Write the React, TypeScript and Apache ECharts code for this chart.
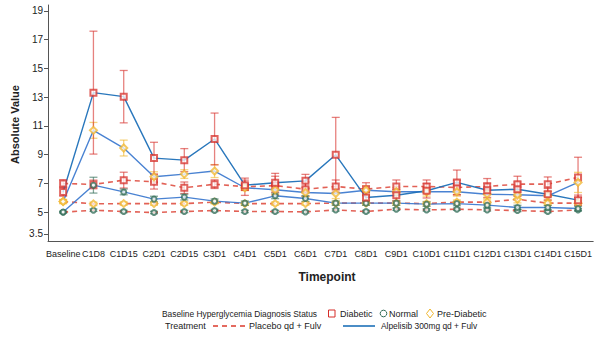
import React, { useEffect, useRef } from "react";
import * as echarts from "echarts";

const categories = ["Baseline", "C1D8", "C1D15", "C2D1", "C2D15", "C3D1", "C4D1", "C5D1", "C6D1", "C7D1", "C8D1", "C9D1", "C10D1", "C11D1", "C12D1", "C13D1", "C14D1", "C15D1"];
const yTicks = [3.5, 5, 7, 9, 11, 13, 15, 17, 19];

// Placebo qd + Fulv
const placeboDiabetic = [7.0, 6.93, 7.23, 7.11, 6.7, 6.95, 6.77, 6.85, 6.6, 6.79, 6.6, 6.79, 6.79, 6.72, 6.79, 6.95, 6.95, 7.42];
const placeboDiabeticErr = [0.25, 0.3, 0.55, 0.5, 0.4, 0.3, 0.6, 0.65, 0.5, 0.45, 0.45, 0.45, 0.45, 0.5, 0.55, 0.55, 0.5, 1.4];
const placeboNormal = [5.0, 5.14, 5.05, 4.98, 5.05, 5.12, 5.05, 5.05, 5.02, 5.16, 5.05, 5.21, 5.16, 5.21, 5.16, 5.12, 5.05, 5.16];
const placeboNormalErr = [0.06, 0.08, 0.08, 0.08, 0.08, 0.08, 0.08, 0.08, 0.08, 0.08, 0.08, 0.08, 0.08, 0.08, 0.08, 0.08, 0.08, 0.08];
const placeboPre = [5.75, 5.58, 5.6, 5.6, 5.6, 5.7, 5.6, 5.6, 5.6, 5.63, 5.63, 5.63, 5.6, 5.7, 5.7, 5.9, 5.63, 5.63];
const placeboPreErr = [0.12, 0.12, 0.12, 0.12, 0.12, 0.12, 0.12, 0.12, 0.12, 0.12, 0.12, 0.15, 0.15, 0.15, 0.15, 0.25, 0.15, 0.15];

// Alpelisib 300mg qd + Fulv
const alpDiabetic = [6.41, 13.31, 13.03, 8.76, 8.62, 10.09, 6.88, 7.05, 7.18, 8.99, 6.02, 6.18, 6.49, 7.07, 6.53, 6.6, 6.25, 5.84];
const alpDiabeticErr = [0.3, 4.27, 1.82, 1.1, 0.8, 1.8, 0.35, 0.65, 0.45, 2.6, 0.4, 0.4, 0.5, 0.86, 0.5, 0.5, 0.4, 0.35];
const alpNormal = [5.02, 6.88, 6.41, 5.91, 6.05, 5.77, 5.63, 6.14, 5.95, 5.63, 5.63, 5.63, 5.56, 5.6, 5.49, 5.33, 5.33, 5.26];
const alpNormalErr = [0.05, 0.55, 0.2, 0.2, 0.2, 0.15, 0.15, 0.2, 0.2, 0.15, 0.15, 0.15, 0.15, 0.15, 0.15, 0.15, 0.15, 0.15];
const alpPre = [5.74, 10.69, 9.46, 7.46, 7.65, 7.86, 6.7, 6.56, 6.37, 6.3, 6.53, 6.42, 6.42, 6.42, 6.25, 6.21, 6.14, 7.07];
const alpPreErr = [0.15, 0.55, 0.55, 0.35, 0.3, 0.45, 0.2, 0.3, 0.3, 0.35, 0.3, 0.3, 0.3, 0.3, 0.3, 0.3, 0.3, 0.7];

const RED = "#db3a2c";
const BLUE = "#1d70b8";
const BLUE2 = "#3f7bd0";
const C_DIAB = "#d62d28";
const C_NORM = "#2f6b55";
const C_PRE = "#f0b62c";

const FONT = "Liberation Sans, Arial, sans-serif";

function errSeries(vals: number[], errs: number[], color: string) {
  return {
    type: "custom",
    z: 2,
    silent: true,
    data: vals.map((v, i) => [i, v - errs[i], v + errs[i]]),
    renderItem: (params: any, api: any) => {
      const lo = api.coord([api.value(0), api.value(1)]);
      const hi = api.coord([api.value(0), api.value(2)]);
      const hw = 4;
      const st = { stroke: color, lineWidth: 1.3, opacity: 0.6 };
      return {
        type: "group",
        children: [
          { type: "line", shape: { x1: lo[0], y1: lo[1], x2: hi[0], y2: hi[1] }, style: st },
          { type: "line", shape: { x1: lo[0] - hw, y1: lo[1], x2: lo[0] + hw, y2: lo[1] }, style: st },
          { type: "line", shape: { x1: hi[0] - hw, y1: hi[1], x2: hi[0] + hw, y2: hi[1] }, style: st },
        ],
      };
    },
  };
}

function lineSeries(name: string, vals: number[], dashed: boolean, lineColor: string, symbol: string, mColor: string, size: number) {
  return {
    name,
    type: "line",
    z: 3,
    data: vals,
    symbol,
    symbolSize: size,
    showAllSymbol: true,
    lineStyle: dashed
      ? { color: lineColor, width: 1.6, type: [5, 4], opacity: 0.8 }
      : { color: lineColor, width: 1.4, opacity: 0.95 },
    itemStyle: { color: mColor, borderColor: mColor, borderWidth: 1.4, opacity: 0.75 },
  };
}

export default function App() {
  const ref = useRef<HTMLDivElement>(null);
  useEffect(() => {
    const chart = echarts.init(ref.current!, null, { renderer: "svg" });
    const legTxt = { fontSize: 9, fontFamily: FONT, fill: "#222" };
    const legSm = { fontSize: 8.4, fontFamily: FONT, fill: "#222" };
    chart.setOption({
      animation: false,
      grid: { left: 48, right: 0, top: 5, height: 236 },
      xAxis: {
        type: "category",
        data: categories,
        boundaryGap: true,
        axisLine: { lineStyle: { color: "#555", width: 1 } },
        axisTick: { alignWithLabel: true, length: 4, lineStyle: { color: "#555" } },
        axisLabel: { interval: 0, fontSize: 9, fontFamily: FONT, color: "#222", margin: 8 },
      },
      yAxis: {
        type: "value",
        min: 3,
        max: 19.4,
        splitLine: { show: false },
        axisLine: { show: true, lineStyle: { color: "#555", width: 1 } },
        axisTick: { show: true, length: 4, customValues: yTicks, lineStyle: { color: "#555" } },
        axisLabel: { fontSize: 10, fontFamily: FONT, color: "#222", margin: 5, customValues: yTicks },
      },
      series: [
        errSeries(placeboNormal, placeboNormalErr, C_NORM),
        errSeries(placeboPre, placeboPreErr, C_PRE),
        errSeries(placeboDiabetic, placeboDiabeticErr, C_DIAB),
        errSeries(alpNormal, alpNormalErr, C_NORM),
        errSeries(alpPre, alpPreErr, C_PRE),
        errSeries(alpDiabetic, alpDiabeticErr, C_DIAB),
        lineSeries("Placebo Normal", placeboNormal, true, RED, "emptyCircle", C_NORM, 5),
        lineSeries("Placebo Pre-Diabetic", placeboPre, true, RED, "emptyDiamond", C_PRE, 7),
        lineSeries("Placebo Diabetic", placeboDiabetic, true, RED, "emptyRect", C_DIAB, 6),
        lineSeries("Alpelisib Normal", alpNormal, false, BLUE2, "emptyCircle", C_NORM, 5),
        lineSeries("Alpelisib Pre-Diabetic", alpPre, false, BLUE2, "emptyDiamond", C_PRE, 7),
        lineSeries("Alpelisib Diabetic", alpDiabetic, false, BLUE, "emptyRect", C_DIAB, 6),
      ],
      graphic: [
        {
          type: "text", x: 327, y: 277,
          style: { text: "Timepoint", fontSize: 12, fontWeight: "bold", fontFamily: FONT, fill: "#222", align: "center", verticalAlign: "middle" },
        },
        {
          type: "text", x: 15, y: 124.5, rotation: Math.PI / 2,
          style: { text: "Absolute Value", fontSize: 11, fontWeight: "bold", fontFamily: FONT, fill: "#222", align: "center", verticalAlign: "middle" },
        },
        { type: "text", x: 162, y: 313.5, style: { ...legSm, text: "Baseline Hyperglycemia Diagnosis Status", verticalAlign: "middle" } },
        { type: "rect", shape: { x: 328.5, y: 310, width: 6.5, height: 7 }, style: { fill: "none", stroke: C_DIAB, lineWidth: 1 } },
        { type: "text", x: 340, y: 313.5, style: { ...legTxt, text: "Diabetic", verticalAlign: "middle" } },
        { type: "circle", shape: { cx: 383.5, cy: 313.5, r: 3.3 }, style: { fill: "none", stroke: C_NORM, lineWidth: 1 } },
        { type: "text", x: 389, y: 313.5, style: { ...legTxt, text: "Normal", verticalAlign: "middle" } },
        { type: "polygon", shape: { points: [[430, 309], [433.5, 313.5], [430, 318], [426.5, 313.5]] }, style: { fill: "none", stroke: C_PRE, lineWidth: 1 } },
        { type: "text", x: 437, y: 313.5, style: { ...legTxt, text: "Pre-Diabetic", verticalAlign: "middle" } },
        { type: "text", x: 165, y: 326, style: { ...legTxt, text: "Treatment", verticalAlign: "middle" } },
        { type: "line", shape: { x1: 213, y1: 326, x2: 247, y2: 326 }, style: { stroke: RED, lineWidth: 1.6, lineDash: [5, 4] } },
        { type: "text", x: 249, y: 326, style: { ...legTxt, text: "Placebo qd + Fulv", verticalAlign: "middle" } },
        { type: "line", shape: { x1: 343, y1: 326, x2: 375, y2: 326 }, style: { stroke: BLUE, lineWidth: 1.6 } },
        { type: "text", x: 381, y: 326, style: { ...legSm, text: "Alpelisib 300mg qd + Fulv", verticalAlign: "middle" } },
      ],
    });
    return () => chart.dispose();
  }, []);
  return <div ref={ref} style={{ width: 595, height: 339, position: "absolute", left: 0, top: 0 }} />;
}
